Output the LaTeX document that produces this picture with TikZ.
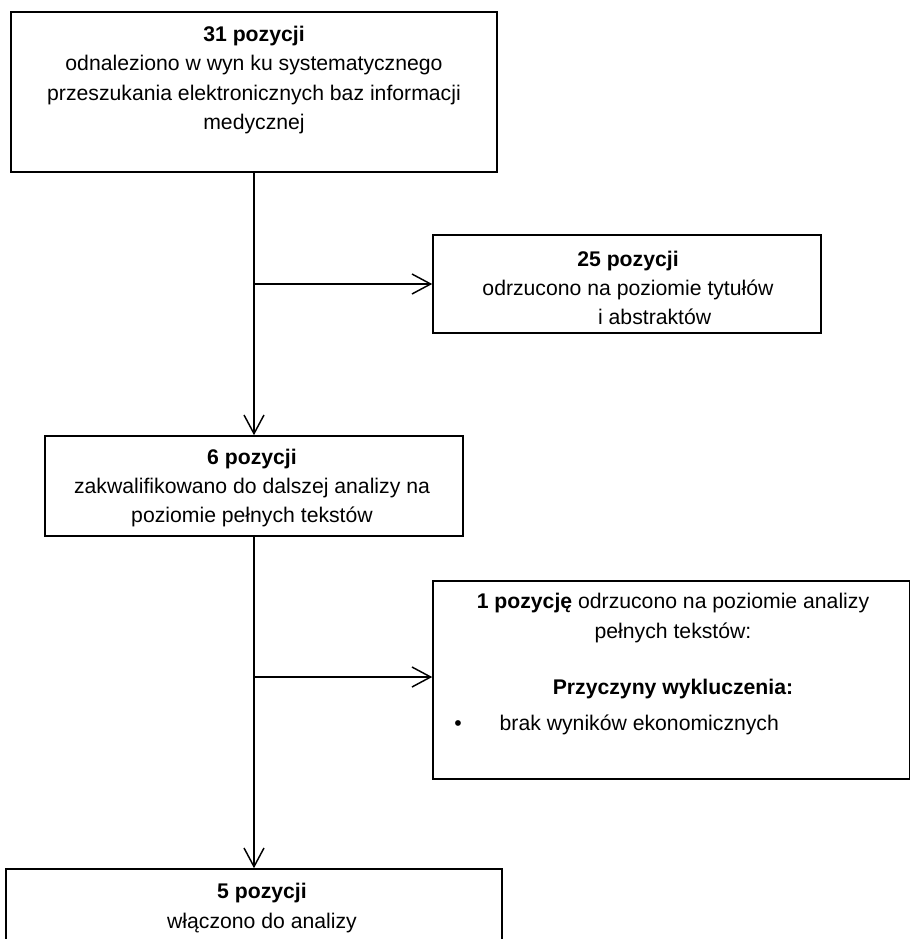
\documentclass[tikz,border=0pt]{standalone}
\usepackage{fontspec}
\setmainfont{Liberation Sans}
\usetikzlibrary{arrows.meta,
                positioning}

\begin{document}
\begin{tikzpicture}[x=0.75pt,y=-0.75pt,
  box/.style={draw,line width=1.2pt,inner sep=0pt},
  txt/.style={align=center,inner sep=0pt,font=\fontsize{15.9}{22}\selectfont},
  arr/.style={-{Straight Barb[length=14pt,width=15pt]},line width=1.1pt}]
\useasboundingbox (0,0) rectangle (910,939);
\clip (0,0) rectangle (910,939);

% boxes
\node[box,minimum width=364.5pt,minimum height=120pt] (found) at (254,92) {};
\node[box,minimum width=291pt,minimum height=73.5pt] (rejtitle) at (627,284) {};
\node[box,minimum width=313.5pt,minimum height=75pt] (fulltext) at (254,486) {};
\node[box,minimum width=357.75pt,minimum height=148.5pt] (rejfull) at (671.5,680) {};
\node[box,minimum width=372pt,minimum height=97.5pt] (included) at (254,934) {};

% texts
\node[txt] (foundtxt) at (254,80) {\textbf{31 pozycji}\\odnaleziono w wyn ku systematycznego\\przeszukania elektronicznych baz informacji\\medycznej};
\node[txt] (rejtitletxt) at (628,288) {\textbf{25 pozycji}\\odrzucono na poziomie tytułów\\\hspace*{40pt}i abstraktów};
\node[txt] (fulltexttxt) at (252,488) {\textbf{6 pozycji}\\zakwalifikowano do dalszej analizy na\\poziomie pełnych tekstów};
\node[txt] (rejfulltxt) at (673,646) {\textbf{1 pozycję} odrzucono na poziomie analizy\\pełnych tekstów:\\[20pt]\textbf{Przyczyny wykluczenia:}};
\node[txt,anchor=west] (reason) at (454,725) {\textbullet\hspace{28.5pt}brak wyników ekonomicznych};
\node[txt] (includedtxt) at (262,908) {\textbf{5 pozycji}\\włączono do analizy};

% connectors
\coordinate (br1) at (254,284);
\coordinate (br2) at (254,677);
\draw[arr] (found.south) -- (fulltext.north);
\draw[arr] (fulltext.south) -- (included.north);
\draw[arr] (br1) -- (br1 -| rejtitle.west);
\draw[arr] (br2) -- (br2 -| rejfull.west);

\end{tikzpicture}
\end{document}
